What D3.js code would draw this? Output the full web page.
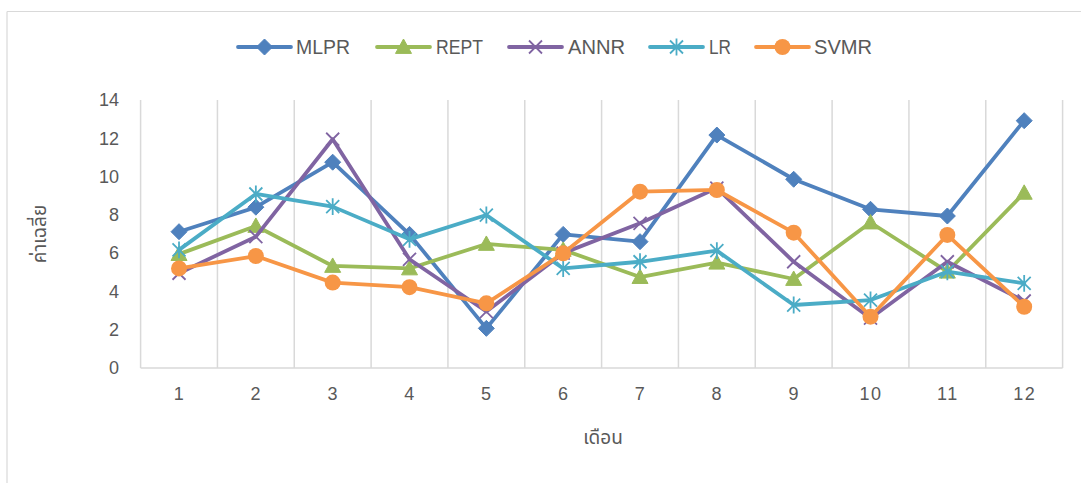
<!DOCTYPE html>
<html>
<head>
<meta charset="utf-8">
<script src="https://cdn.jsdelivr.net/npm/d3@7"></script>
<style>
  html, body { margin: 0; padding: 0; background: #fff; }
  svg { display: block; }
</style>
</head>
<body>
<svg id="chart" width="1081" height="483"></svg>
<script>
// Monthly averages per model
const months = [1, 2, 3, 4, 5, 6, 7, 8, 9, 10, 11, 12];
const mlpr = [7.12, 8.4, 10.75, 6.98, 2.07, 6.98, 6.6, 12.17, 9.86, 8.29, 7.94, 12.92];
const rept = [5.95, 7.42, 5.33, 5.2, 6.48, 6.17, 4.75, 5.5, 4.65, 7.6, 5.03, 9.15];
const annr = [4.95, 6.86, 11.95, 5.68, 2.95, 6.0, 7.56, 9.4, 5.55, 2.6, 5.55, 3.5];
const lr   = [6.17, 9.09, 8.43, 6.72, 7.99, 5.2, 5.55, 6.13, 3.29, 3.55, 5.03, 4.42];
const svmr = [5.2, 5.85, 4.46, 4.22, 3.38, 5.99, 9.21, 9.3, 7.07, 2.68, 6.95, 3.2];
const yTicks = [0, 2, 4, 6, 8, 10, 12, 14];

const seriesList = [
  { name: "MLPR", values: mlpr, color: "#4f81bd", marker: "diamond" },
  { name: "REPT", values: rept, color: "#9bbb59", marker: "triangle" },
  { name: "ANNR", values: annr, color: "#8064a2", marker: "x" },
  { name: "LR",   values: lr,   color: "#4bacc6", marker: "star" },
  { name: "SVMR", values: svmr, color: "#f79646", marker: "circle" }
];

const svg = d3.select("#chart");
const textColor = "#595959";
const gridColor = "#d9d9d9";
const latin = "'Liberation Sans', Arial, sans-serif";
const thai = "'Noto Sans Thai', 'Noto Sans Thai UI', 'Garuda', 'Loma', 'Tlwg Typo', 'DejaVu Sans', sans-serif";

// chart frame edges
svg.append("line").attr("x1", 7).attr("x2", 1081).attr("y1", 11.5).attr("y2", 11.5)
  .attr("stroke", "#d9d9d9").attr("stroke-width", 1.2);
svg.append("line").attr("x1", 7).attr("x2", 7).attr("y1", 11.5).attr("y2", 483)
  .attr("stroke", "#d9d9d9").attr("stroke-width", 1.2);

const plot = { left: 140.6, right: 1062.6, top: 100, bottom: 368 };

const x = d3.scalePoint().domain(months).range([plot.left, plot.right]).padding(0.5);
const y = d3.scaleLinear().domain([0, 14]).range([plot.bottom, plot.top]);
const step = x.step();

// vertical category gridlines
const bounds = d3.range(months.length + 1).map(i => plot.left + i * step);
svg.append("g").selectAll("line").data(bounds).join("line")
  .attr("x1", d => d).attr("x2", d => d)
  .attr("y1", plot.top).attr("y2", plot.bottom)
  .attr("stroke", gridColor).attr("stroke-width", 1.5);

// bottom axis line
svg.append("line").attr("x1", plot.left).attr("x2", plot.right)
  .attr("y1", plot.bottom).attr("y2", plot.bottom)
  .attr("stroke", gridColor).attr("stroke-width", 1.5);

// y axis labels
const yAxis = d3.axisLeft(y).tickValues(yTicks).tickSize(0).tickPadding(0);
const gy = svg.append("g").attr("transform", `translate(119,0)`).call(yAxis);
gy.select(".domain").remove();
gy.selectAll("text").attr("fill", textColor).style("font-family", latin).style("font-size", "18px");

// x axis labels
const xAxis = d3.axisBottom(x).tickSize(0).tickPadding(0);
const gx = svg.append("g").attr("transform", `translate(0,${plot.bottom + 19})`).call(xAxis);
gx.select(".domain").remove();
gx.selectAll("text").attr("fill", textColor).style("font-family", latin).style("font-size", "18px")
  .style("letter-spacing", "1.5px")
  .attr("dy", "0.71em");

// axis titles
svg.append("text").attr("x", 603).attr("y", 444).attr("text-anchor", "middle")
  .attr("fill", textColor).style("font-family", thai).style("font-size", "19px").text("เดือน");
svg.append("text").attr("transform", "translate(46,234) rotate(-90)").attr("text-anchor", "middle")
  .attr("fill", textColor).style("font-family", thai).style("font-size", "19px").text("ค่าเฉลี่ย");

// marker drawing
function drawMarker(g, type, color, cx, cy) {
  if (type === "diamond") {
    const r = 8;
    g.append("path").attr("d", `M${cx},${cy - r}L${cx + r},${cy}L${cx},${cy + r}L${cx - r},${cy}Z`)
      .attr("fill", color).attr("stroke", color).attr("stroke-width", 1).attr("stroke-linejoin", "round");
  } else if (type === "triangle") {
    const r = 8;
    g.append("path").attr("d", `M${cx},${cy - r}L${cx + r},${cy + r * 0.8}L${cx - r},${cy + r * 0.8}Z`)
      .attr("fill", color).attr("stroke", color).attr("stroke-width", 1);
  } else if (type === "circle") {
    g.append("circle").attr("cx", cx).attr("cy", cy).attr("r", 8).attr("fill", color);
  } else if (type === "x") {
    const r = 6.5;
    g.append("path").attr("d", `M${cx - r},${cy - r}L${cx + r},${cy + r}M${cx - r},${cy + r}L${cx + r},${cy - r}`)
      .attr("stroke", color).attr("stroke-width", 1.8).attr("fill", "none");
  } else if (type === "star") {
    const r = 6.5;
    g.append("path").attr("d", `M${cx - r},${cy - r}L${cx + r},${cy + r}M${cx - r},${cy + r}L${cx + r},${cy - r}M${cx},${cy - r * 1.3}L${cx},${cy + r * 1.3}`)
      .attr("stroke", color).attr("stroke-width", 1.8).attr("fill", "none");
  }
}

const line = d3.line().x((d, i) => x(months[i])).y(d => y(d));

seriesList.forEach(s => {
  const g = svg.append("g").attr("class", "series");
  g.append("path").datum(s.values).attr("d", line)
    .attr("fill", "none").attr("stroke", s.color).attr("stroke-width", 3.8)
    .attr("stroke-linejoin", "round").attr("stroke-linecap", "round");
  s.values.forEach((v, i) => drawMarker(g, s.marker, s.color, x(months[i]), y(v)));
});

// legend
const legendItems = [
  { lx: 238, tx: 296, w: 54 }, { lx: 377, tx: 436, w: 47 }, { lx: 509, tx: 568, w: 57 },
  { lx: 650, tx: 709, w: 22 }, { lx: 756, tx: 814, w: 58 }
];
const lg = svg.append("g");
seriesList.forEach((s, i) => {
  const p = legendItems[i];
  const ly = 47;
  lg.append("line").attr("x1", p.lx).attr("x2", p.lx + 53).attr("y1", ly).attr("y2", ly)
    .attr("stroke", s.color).attr("stroke-width", 3.8).attr("stroke-linecap", "round");
  drawMarker(lg, s.marker, s.color, p.lx + 26.5, ly);
  lg.append("text").attr("x", p.tx).attr("y", ly).attr("dy", "0.36em")
    .attr("fill", textColor).style("font-family", latin).style("font-size", "20px")
    .attr("textLength", p.w).attr("lengthAdjust", "spacingAndGlyphs")
    .text(s.name);
});
</script>
</body>
</html>
